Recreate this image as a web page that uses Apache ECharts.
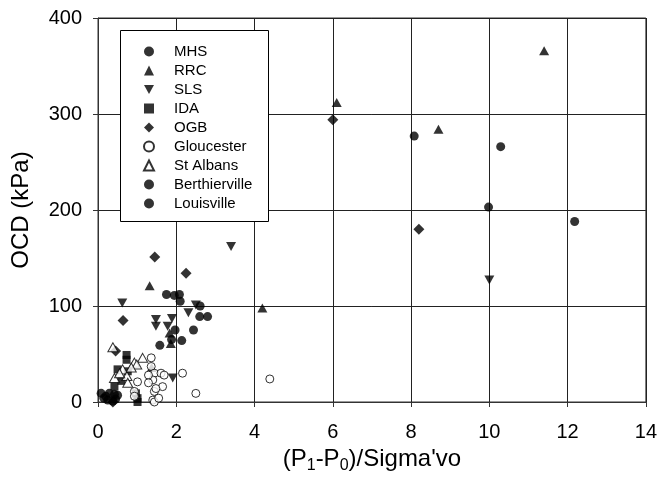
<!DOCTYPE html>
<html>
<head>
<meta charset="utf-8">
<script src="https://cdn.jsdelivr.net/npm/echarts@6/dist/echarts.min.js"></script>
<style>
  html, body { margin: 0; padding: 0; background: #fff; }
  #chart { width: 660px; height: 486px; }
</style>
</head>
<body>
<div id="chart"></div>
<script>
// Site data: normalised pressure difference (x) vs overconsolidation difference OCD in kPa (y)
const mhsX = [0.08, 0.15, 0.29, 0.25, 0.38, 0.42, 0.50, 0.20, 0.45];
const mhsY = [9, 4, 9, 2, 1, 8, 7, 6, 3];

const rrcX = [11.4, 6.1, 8.7, 4.2, 1.32, 1.83, 1.86, 1.37];
const rrcY = [366, 312, 284, 98, 121, 72, 61, 36];

const slsX = [10.0, 3.4, 0.62, 2.50, 2.31, 1.48, 1.48, 1.89, 1.78, 1.91];
const slsY = [127, 162, 103, 101, 93, 86, 79, 87, 79, 25];

const idaX = [0.73, 0.73, 0.50, 0.76, 0.97, 1.01, 1.01, 0.42, 0.60];
const idaY = [49, 44, 34, 32, 9, 4, 0, 16, 22];

const ogbX = [6.0, 8.2, 2.25, 1.45, 0.64, 0.45, 0.38];
const ogbY = [294, 180, 134, 151, 85, 53, 0];

const gloucesterX = [4.39, 2.50, 2.16, 1.36, 1.36, 1.44, 1.61, 1.69, 1.40, 1.65, 1.44, 1.40, 1.44, 1.01, 0.93, 0.93, 1.29, 1.29, 1.48, 1.55];
const gloucesterY = [24, 9, 30, 46, 37, 30, 30, 28, 23, 16, 11, 2, 0, 21, 11, 6, 28, 20, 14, 4];

const stAlbansX = [0.38, 1.14, 0.93, 0.63, 0.42, 0.74, 0.76, 0.99, 0.55, 0.85];
const stAlbansY = [57, 46, 41, 34, 25, 27, 20, 39, 30, 36];

const berthiervilleX = [1.75, 1.95, 2.08, 2.10, 2.61, 2.60, 2.80, 2.44, 1.97, 1.88, 2.14, 1.58];
const berthiervilleY = [112, 111, 112, 105, 100, 89, 89, 75, 75, 65, 64, 59];

const louisvilleX = [8.08, 10.29, 9.98, 12.18];
const louisvilleY = [277, 266, 203, 188];

const xTicks = { min: 0, max: 14, interval: 2 };
const yTicks = { min: 0, max: 400, interval: 100 };

function pairs(xs, ys) { return xs.map((x, i) => [x, ys[i]]); }

const downTriangle = 'path://M0,0L2,0L1,1.8Z';
const filled = { color: '#000' };
const hollow = { color: '#fff', borderColor: '#000', borderWidth: 1 };

function makeSeries(name, xs, ys, symbol, size, style) {
  return {
    name: name,
    type: 'scatter',
    data: pairs(xs, ys),
    symbol: symbol,
    symbolSize: size,
    itemStyle: style,
    emphasis: { disabled: true },
    animation: false
  };
}

const series = [
  makeSeries('MHS', mhsX, mhsY, 'circle', 9, filled),
  makeSeries('RRC', rrcX, rrcY, 'triangle', [10, 9], filled),
  makeSeries('SLS', slsX, slsY, downTriangle, [10, 9], filled),
  makeSeries('IDA', idaX, idaY, 'rect', 8, filled),
  makeSeries('OGB', ogbX, ogbY, 'diamond', 11, filled),
  makeSeries('Gloucester', gloucesterX, gloucesterY, 'circle', 8, hollow),
  makeSeries('St Albans', stAlbansX, stAlbansY, 'triangle', [10, 9], hollow),
  makeSeries('Berthierville', berthiervilleX, berthiervilleY, 'circle', 9, filled),
  makeSeries('Louisville', louisvilleX, louisvilleY, 'circle', 9, filled)
];

const font = 'Arial, "Liberation Sans", sans-serif';
const chart = echarts.init(document.getElementById('chart'), null, { renderer: 'canvas' });

chart.setOption({
  backgroundColor: '#fff',
  animation: false,
  textStyle: { fontFamily: font, color: '#000' },
  grid: {
    left: 98, right: 12, top: 18, bottom: 84,
    show: true, borderColor: '#333', borderWidth: 1, backgroundColor: 'transparent'
  },
  xAxis: {
    type: 'value',
    min: xTicks.min, max: xTicks.max, interval: xTicks.interval,
    name: '(P{sub|1}-P{sub|0})/Sigma\'vo',
    nameLocation: 'middle',
    nameGap: 37,
    nameTextStyle: {
      fontFamily: font, fontSize: 24, color: '#000',
      rich: { sub: { fontFamily: font, fontSize: 16, color: '#000', padding: [14, 0, 0, 0] } }
    },
    axisLine: { show: true, onZero: false, lineStyle: { color: '#333', width: 1 } },
    axisTick: { show: true, inside: false, length: 5, lineStyle: { color: '#333' } },
    axisLabel: { fontFamily: font, fontSize: 20, color: '#000', margin: 20 },
    splitLine: { show: true, lineStyle: { color: '#222', width: 1 } }
  },
  yAxis: {
    type: 'value',
    min: yTicks.min, max: yTicks.max, interval: yTicks.interval,
    name: 'OCD (kPa)',
    nameLocation: 'middle',
    nameGap: 65,
    nameTextStyle: { fontFamily: font, fontSize: 24, color: '#000' },
    axisLine: { show: true, onZero: false, lineStyle: { color: '#333', width: 1 } },
    axisTick: { show: true, inside: false, length: 5, lineStyle: { color: '#333' } },
    axisLabel: { fontFamily: font, fontSize: 20, color: '#000', margin: 16 },
    splitLine: { show: true, lineStyle: { color: '#222', width: 1 } }
  },
  graphic: [{
    type: 'rect',
    z: 3,
    shape: { x: 120.5, y: 30.5, width: 148, height: 191 },
    style: { fill: '#fff', stroke: '#000', lineWidth: 1 }
  }],
  legend: {
    orient: 'vertical',
    left: 143, top: 44,
    z: 5,
    padding: 0,
    itemWidth: 10, itemHeight: 10, itemGap: 4,
    selectedMode: false,
    textStyle: { fontFamily: font, fontSize: 15, color: '#000', lineHeight: 15, padding: [0, 0, 0, 15] },
    data: series.map(s => s.name)
  },
  series: series
});
</script>
</body>
</html>
